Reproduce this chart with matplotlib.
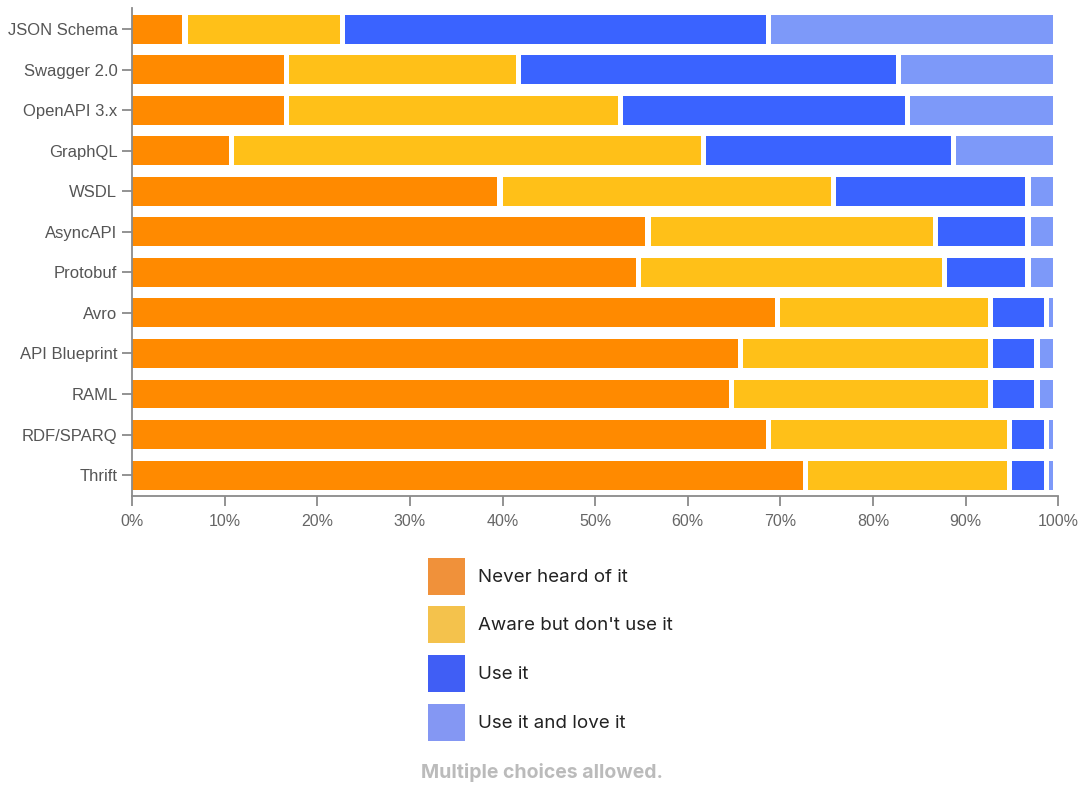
import matplotlib
matplotlib.use("Agg")
import matplotlib.pyplot as plt
from matplotlib.patches import Rectangle
from matplotlib.ticker import FuncFormatter
import numpy as np

categories = ["JSON Schema", "Swagger 2.0", "OpenAPI 3.x", "GraphQL", "WSDL",
              "AsyncAPI", "Protobuf", "Avro", "API Blueprint", "RAML",
              "RDF/SPARQ", "Thrift"]

never_heard = [6, 17, 17, 11, 40, 56, 55, 70, 66, 65, 69, 73]
aware_not_used = [17, 25, 36, 51, 36, 31, 33, 23, 27, 28, 26, 22]
use_it = [46, 41, 31, 27, 21, 10, 9, 6, 5, 5, 4, 4]
use_and_love = [31, 17, 16, 11, 3, 3, 3, 1, 2, 2, 1, 1]

series_labels = ["Never heard of it", "Aware but don't use it", "Use it",
                 "Use it and love it"]
bar_colors = ["#FF8A00", "#FFC018", "#3A63FF", "#7D99F9"]
legend_colors = ["#F0913A", "#F4C24C", "#405EF5", "#8497F3"]

W, H = 1083, 785
fig = plt.figure(figsize=(W / 100, H / 100), dpi=100)
ax_left, ax_right = 132 / W, 1058.3 / W
ax_top, ax_bottom = 1 - 8 / H, 1 - 495.7 / H
ax = fig.add_axes([ax_left, ax_bottom, ax_right - ax_left, ax_top - ax_bottom])

ax.set_xlim(0, 100)
ax.set_ylim(len(categories) - 0.49, -0.526)

# white gap between stacked segments, in data units (~5 px)
px_per_unit = (1058.3 - 132) / 100
gap = 5.3 / px_per_unit

y = np.arange(len(categories))
left = np.zeros(len(categories))
for vals, color, label in zip([never_heard, aware_not_used, use_it, use_and_love],
                              bar_colors, series_labels):
    vals = np.array(vals, dtype=float)
    ax.barh(y, np.maximum(vals - gap, 0.15), left=left, height=0.715,
            color=color, edgecolor="none", label=label)
    left += vals

ax.set_yticks(y)
ax.set_yticklabels(categories)
ax.set_xticks(np.arange(0, 101, 10))
ax.xaxis.set_major_formatter(FuncFormatter(lambda v, p: f"{v:.0f}%"))

axis_gray = "#8a8a8a"
for side in ["top", "right"]:
    ax.spines[side].set_visible(False)
for side in ["left", "bottom"]:
    ax.spines[side].set_color(axis_gray)
    ax.spines[side].set_linewidth(1.3)

label_font = ["Liberation Sans", "DejaVu Sans"]
ax.tick_params(axis="x", length=7, width=1.3, color=axis_gray, pad=6.5,
               labelsize=11.5, labelcolor="#666666")
ax.tick_params(axis="y", length=7, width=1.3, color=axis_gray, pad=3.5,
               labelsize=12, labelcolor="#555555")
for lbl in ax.get_xticklabels() + ax.get_yticklabels():
    lbl.set_fontfamily(label_font)

# hand-built legend below the plot
sq = 37
x0 = 428.3
y0 = 557.7
pitch = 48.7
for i, (label, color) in enumerate(zip(series_labels, legend_colors)):
    top = y0 + i * pitch
    fig.patches.append(Rectangle((x0 / W, 1 - (top + sq) / H), sq / W, sq / H,
                                 transform=fig.transFigure, facecolor=color,
                                 edgecolor="none"))
    fig.text(477.5 / W, 1 - (top + sq / 2 + 1) / H, label, ha="left", va="center",
             fontsize=13.5, color="#222222", family=["Inter", "DejaVu Sans"])

fig.text(542 / W, 1 - 772 / H, "Multiple choices allowed.", ha="center",
         va="center", fontsize=14, fontweight="bold", color="#BBBBBB",
         family=["Inter", "DejaVu Sans"])

fig.savefig("out.png", dpi=100, facecolor="white")
